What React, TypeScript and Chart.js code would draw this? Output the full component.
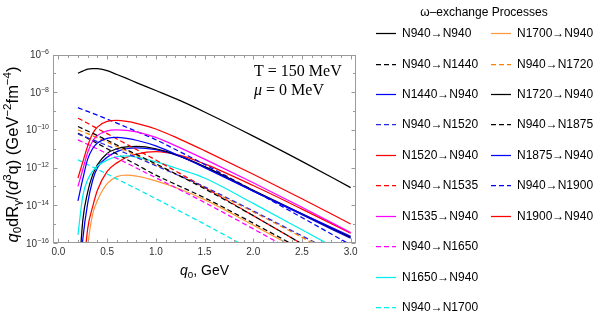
import React, { useEffect, useRef } from "react";
import { Chart, registerables } from "chart.js";

Chart.register(...registerables);

// ---------- data ----------
const qValues = [0.2, 0.25, 0.3, 0.35, 0.4, 0.5, 0.6, 0.7, 0.8, 1.0, 1.25, 1.5, 2.0, 2.5, 3.0];

const rateN940toN940 = [1.02e-7, 1.32e-7, 1.66e-7, 1.78e-7, 1.78e-7, 1.38e-7, 8.71e-8, 5.37e-8, 3.24e-8, 1.23e-8, 3.55e-9, 8.91e-10, 4.68e-11, 2.14e-12, 8.71e-14];
const rateN940toN1440 = [1.51e-10, 1.15e-10, 8.71e-11, 6.61e-11, 5.01e-11, 2.82e-11, 1.58e-11, 8.91e-12, 5.01e-12, 1.58e-12, 3.55e-13, 7.59e-14, 2.82e-15, 8.91e-17, 2.51e-18];
const rateN1440toN940 = [1.7e-14, 2.51e-13, 2.82e-12, 1.0e-11, 2.0e-11, 3.55e-11, 3.98e-11, 3.55e-11, 2.82e-11, 1.41e-11, 3.98e-12, 1.0e-12, 5.62e-14, 3.55e-15, 2.24e-16];
const rateN940toN1520 = [6.03e-11, 4.79e-11, 3.8e-11, 3.02e-11, 2.4e-11, 1.48e-11, 9.12e-12, 5.62e-12, 3.47e-12, 1.26e-12, 3.55e-13, 9.55e-14, 5.01e-15, 2.4e-16, 1.12e-17];
const rateN1520toN940 = [2.75e-13, 2.0e-12, 1.41e-11, 6.31e-11, 1.41e-10, 2.82e-10, 3.16e-10, 2.82e-10, 2.24e-10, 1.12e-10, 3.16e-11, 7.94e-12, 4.47e-13, 2.24e-14, 1.02e-15];
const rateN940toN1535 = [4.17e-10, 3.09e-10, 2.24e-10, 1.62e-10, 1.17e-10, 6.31e-11, 3.31e-11, 1.74e-11, 9.12e-12, 2.51e-12, 4.79e-13, 8.91e-14, 2.82e-15, 8.91e-17, 2.51e-18];
const rateN1535toN940 = [1.0e-13, 7.94e-13, 6.31e-12, 2.51e-11, 5.01e-11, 8.91e-11, 1.0e-10, 9.55e-11, 7.94e-11, 3.98e-11, 1.12e-11, 2.82e-12, 1.58e-13, 7.94e-15, 3.55e-16];
const rateN940toN1650 = [2.95e-11, 2.24e-11, 1.7e-11, 1.29e-11, 9.77e-12, 5.5e-12, 3.09e-12, 1.74e-12, 9.55e-13, 2.88e-13, 6.46e-14, 1.41e-14, 5.62e-16, 2.0e-17, 6.31e-19];
const rateN1650toN940 = [2.69e-16, 3.16e-14, 2.24e-13, 6.31e-13, 1.2e-12, 2.51e-12, 3.8e-12, 4.17e-12, 3.55e-12, 2.0e-12, 7.94e-13, 2.82e-13, 1.26e-14, 5.01e-16, 2.0e-17];
const rateN940toN1700 = [2.57e-12, 1.95e-12, 1.45e-12, 1.1e-12, 8.13e-13, 4.57e-13, 2.51e-13, 1.38e-13, 7.59e-14, 2.24e-14, 4.79e-15, 1.0e-15, 3.98e-17, 1.58e-18, 6.31e-20];
const rateN1700toN940 = [1e-22, 1e-19, 6.31e-17, 3.16e-15, 1.78e-14, 1.41e-13, 3.31e-13, 3.98e-13, 3.55e-13, 2.0e-13, 7.08e-14, 2.0e-14, 8.91e-16, 3.55e-17, 1.41e-18];
const rateN940toN1720 = [1.0e-10, 7.94e-11, 6.31e-11, 4.9e-11, 3.8e-11, 2.24e-11, 1.32e-11, 7.59e-12, 4.37e-12, 1.41e-12, 3.55e-13, 8.51e-14, 4.47e-15, 2.0e-16, 7.94e-18];
const rateN1720toN940 = [3.16e-19, 1.58e-15, 5.01e-14, 3.98e-13, 1.41e-12, 5.62e-12, 1.0e-11, 1.26e-11, 1.32e-11, 1.0e-11, 3.98e-12, 1.12e-12, 6.31e-14, 3.55e-15, 2.0e-16];
const rateN940toN1875 = [6.61e-11, 4.9e-11, 3.55e-11, 2.63e-11, 1.91e-11, 1.0e-11, 5.25e-12, 2.75e-12, 1.45e-12, 3.98e-13, 1.0e-13, 2.51e-14, 1.12e-15, 4.47e-17, 1.58e-18];
const rateN1875toN940 = [1e-19, 1.58e-16, 1.26e-14, 2.0e-13, 1.0e-12, 3.55e-12, 7.08e-12, 1.0e-11, 1.12e-11, 8.91e-12, 3.98e-12, 1.12e-12, 5.62e-14, 3.16e-15, 1.78e-16];
const rateN940toN1900 = [1.51e-9, 1.2e-9, 9.55e-10, 7.59e-10, 6.03e-10, 3.72e-10, 2.29e-10, 1.38e-10, 8.32e-11, 3.02e-11, 6.76e-12, 1.48e-12, 6.03e-14, 2.24e-15, 7.94e-17];
const rateN1900toN940 = [1e-21, 1e-18, 5.62e-16, 7.94e-15, 6.31e-14, 6.31e-13, 1.78e-12, 3.55e-12, 5.25e-12, 7.08e-12, 4.47e-12, 1.58e-12, 1.12e-13, 6.31e-15, 3.31e-16];

const processLabels = [
  "N940→N940", "N940→N1440", "N1440→N940", "N940→N1520", "N1520→N940",
  "N940→N1535", "N1535→N940", "N940→N1650", "N1650→N940", "N940→N1700",
  "N1700→N940", "N940→N1720", "N1720→N940", "N940→N1875", "N1875→N940",
  "N940→N1900", "N1900→N940",
];
const processRates = [
  rateN940toN940, rateN940toN1440, rateN1440toN940, rateN940toN1520, rateN1520toN940,
  rateN940toN1535, rateN1535toN940, rateN940toN1650, rateN1650toN940, rateN940toN1700,
  rateN1700toN940, rateN940toN1720, rateN1720toN940, rateN940toN1875, rateN1875toN940,
  rateN940toN1900, rateN1900toN940,
];

const xTickValues = [0, 0.5, 1.0, 1.5, 2.0, 2.5, 3.0];
const yTickValues = [1e-16, 1e-15, 1e-14, 1e-13, 1e-12, 1e-11, 1e-10, 1e-9, 1e-8, 1e-7, 1e-6];
const yTickExponents = ["−16", "", "−14", "", "−12", "", "−10", "", "−8", "", "−6"];

const legendTitle = "ω–exchange Processes";
const insetLine1 = "T = 150 MeV";
const insetLine2 = "= 0 MeV";

// ---------- styles ----------
const SANS = '"Liberation Sans", Arial, Helvetica, sans-serif';
const SERIF = '"Liberation Serif", "Times New Roman", serif';
const C = {
  black: "#000000",
  blue: "#0000ff",
  blueD: "#2a2ae0",
  red: "#ff0000",
  magenta: "#ff00ff",
  cyan: "#00eeee",
  orange: "#ff9a3c",
  orangeD: "#ff8000",
};
const seriesStyle: { color: string; dashed: boolean }[] = [
  { color: C.black, dashed: false },
  { color: C.black, dashed: true },
  { color: C.blue, dashed: false },
  { color: C.blueD, dashed: true },
  { color: C.red, dashed: false },
  { color: C.red, dashed: true },
  { color: C.magenta, dashed: false },
  { color: C.magenta, dashed: true },
  { color: C.cyan, dashed: false },
  { color: C.cyan, dashed: true },
  { color: C.orange, dashed: false },
  { color: C.orangeD, dashed: true },
  { color: C.black, dashed: false },
  { color: C.black, dashed: true },
  { color: C.blue, dashed: false },
  { color: C.blue, dashed: true },
  { color: C.red, dashed: false },
];
const DASH = [5, 3];

type Seg = { t: string; k?: "i" | "sub" | "sup" };

function measureRich(ctx: CanvasRenderingContext2D, segs: Seg[], size: number, family: string) {
  return segs.map((s) => {
    const small = s.k === "sub" || s.k === "sup";
    const fs = small ? size * 0.7 : size;
    const font = `${s.k === "i" ? "italic " : ""}${fs}px ${family}`;
    ctx.font = font;
    return { t: s.t, font, w: ctx.measureText(s.t).width, dy: s.k === "sub" ? size * 0.22 : s.k === "sup" ? -size * 0.4 : 0 };
  });
}

function drawRich(ctx: CanvasRenderingContext2D, segs: Seg[], x: number, y: number, size: number, family: string, align: "center" | "left" | "right") {
  const parts = measureRich(ctx, segs, size, family);
  const total = parts.reduce((a, p) => a + p.w, 0);
  let cx = align === "center" ? x - total / 2 : align === "right" ? x - total : x;
  for (const p of parts) {
    ctx.font = p.font;
    ctx.fillText(p.t, cx, y + p.dy);
    cx += p.w;
  }
}

const yTitle: Seg[] = [
  { t: "q", k: "i" }, { t: "0", k: "sub" }, { t: "dR" }, { t: "γ", k: "sub" }, { t: "/(" },
  { t: "d", k: "i" }, { t: "3", k: "sup" }, { t: "q) (GeV" }, { t: "−2", k: "sup" },
  { t: "fm" }, { t: "−4", k: "sup" }, { t: ")" },
];
const xTitle: Seg[] = [{ t: "q", k: "i" }, { t: "0", k: "sub" }, { t: ", GeV" }];

const framePlugin = {
  id: "frameTicks",
  afterDraw(chart: any) {
    const { ctx, chartArea: a, scales } = chart;
    const xs = scales.x;
    const ys = scales.y;
    ctx.save();
    ctx.strokeStyle = "#9a9a9a";
    ctx.lineWidth = 1;
    const L = Math.round(a.left) + 0.5;
    const R = Math.round(a.right) - 0.5;
    const T = Math.round(a.top) + 0.5;
    const B = Math.round(a.bottom) - 0.5;
    ctx.strokeRect(L, T, R - L, B - T);
    ctx.beginPath();
    for (let i = 0; i <= 30; i++) {
      const px = Math.round(xs.getPixelForValue(i / 10)) + 0.5;
      const len = i % 5 === 0 ? 4 : 2.5;
      ctx.moveTo(px, B); ctx.lineTo(px, B - len);
      ctx.moveTo(px, T); ctx.lineTo(px, T + len);
    }
    yTickValues.forEach((v, i) => {
      const py = Math.round(ys.getPixelForValue(v)) + 0.5;
      const len = i % 2 === 0 ? 4 : 2.5;
      ctx.moveTo(L, py); ctx.lineTo(L + len, py);
      ctx.moveTo(R, py); ctx.lineTo(R - len, py);
    });
    ctx.stroke();
    // y tick labels: 10 with superscript exponent
    ctx.fillStyle = "#333";
    ctx.textBaseline = "alphabetic";
    ctx.textAlign = "left";
    yTickValues.forEach((v, i) => {
      if (!yTickExponents[i]) return;
      const py = ys.getPixelForValue(v);
      drawRich(ctx, [{ t: "10" }, { t: yTickExponents[i], k: "sup" }], 49, py + 3.5, 10, SANS, "right");
    });
    ctx.restore();
  },
};

const textPlugin = {
  id: "texts",
  afterDraw(chart: any) {
    const { ctx, chartArea: a } = chart;
    ctx.save();
    ctx.fillStyle = "#000";
    ctx.textBaseline = "alphabetic";
    ctx.textAlign = "left";
    // axis titles
    drawRich(ctx, xTitle, (a.left + a.right) / 2, 275, 14, SANS, "center");
    ctx.save();
    ctx.translate(17.5, 154.5);
    ctx.rotate(-Math.PI / 2);
    drawRich(ctx, yTitle, 0, 0, 16.5, SANS, "center");
    ctx.restore();
    // inset
    ctx.font = `16px ${SERIF}`;
    ctx.fillText(insetLine1, 254, 76);
    ctx.font = `italic 16px ${SERIF}`;
    ctx.fillText("μ", 254, 95);
    const mw = ctx.measureText("μ").width;
    ctx.font = `16px ${SERIF}`;
    ctx.fillText(" " + insetLine2, 254 + mw, 95);
    // legend
    ctx.font = `12px ${SANS}`;
    ctx.textAlign = "center";
    ctx.fillText(legendTitle, 484, 16);
    ctx.textAlign = "left";
    ctx.textBaseline = "middle";
    chart.data.datasets.forEach((ds: any, i: number) => {
      const col = i < 10 ? 0 : 1;
      const row = i < 10 ? i : i - 10;
      const y = Math.round(33.3 + row * 30.4) + 0.5;
      const x0 = col ? 491 : 376;
      ctx.strokeStyle = ds.borderColor;
      ctx.lineWidth = 1.25;
      ctx.setLineDash(ds.borderDash || []);
      ctx.beginPath();
      ctx.moveTo(x0, y);
      ctx.lineTo(x0 + 20, y);
      ctx.stroke();
      ctx.setLineDash([]);
      ctx.fillStyle = "#000";
      ctx.font = `12px ${SANS}`;
      ctx.fillText(ds.label, x0 + 26, y);
    });
    ctx.restore();
  },
};

export default function App() {
  const ref = useRef<HTMLCanvasElement | null>(null);
  useEffect(() => {
    if (!ref.current) return;
    const datasets = processLabels.map((label, i) => ({
      label,
      data: qValues.map((q, j) => ({ x: q, y: processRates[i][j] })),
      borderColor: seriesStyle[i].color,
      backgroundColor: seriesStyle[i].color,
      borderDash: seriesStyle[i].dashed ? DASH : [],
      borderWidth: 1.25,
      pointRadius: 0,
      cubicInterpolationMode: "monotone" as const,
      fill: false,
    }));
    const chart = new Chart(ref.current, {
      type: "line",
      data: { datasets },
      options: {
        animation: false,
        responsive: false,
        devicePixelRatio: 1,
        layout: { padding: { left: 0, right: 244, top: 54.5, bottom: 0 } },
        plugins: { legend: { display: false }, tooltip: { enabled: false } },
        scales: {
          x: {
            type: "linear",
            min: -0.056,
            max: 3.055,
            afterBuildTicks: (s: any) => {
              s.ticks = xTickValues.map((v) => ({ value: v }));
            },
            afterFit: (s: any) => {
              s.height = 85;
            },
            grid: { display: false, drawTicks: false },
            border: { display: false },
            ticks: {
              padding: 3,
              autoSkip: false,
              maxRotation: 0,
              color: "#333",
              font: { size: 10, family: SANS },
              callback: (v: any) => Number(v).toFixed(1),
            },
          },
          y: {
            type: "logarithmic",
            min: 1e-16,
            max: 1e-6,
            afterBuildTicks: (s: any) => {
              s.ticks = yTickValues.map((v) => ({ value: v }));
            },
            afterFit: (s: any) => {
              s.width = 53;
            },
            grid: { display: false, drawTicks: false },
            border: { display: false },
            ticks: { display: false },
          },
        },
      },
      plugins: [framePlugin, textPlugin],
    });
    return () => chart.destroy();
  }, []);
  return (
    <div style={{ position: "absolute", left: 0, top: 0, width: 600, height: 328, background: "#fff" }}>
      <canvas ref={ref} width={600} height={328} style={{ width: 600, height: 328, display: "block" }} />
    </div>
  );
}
